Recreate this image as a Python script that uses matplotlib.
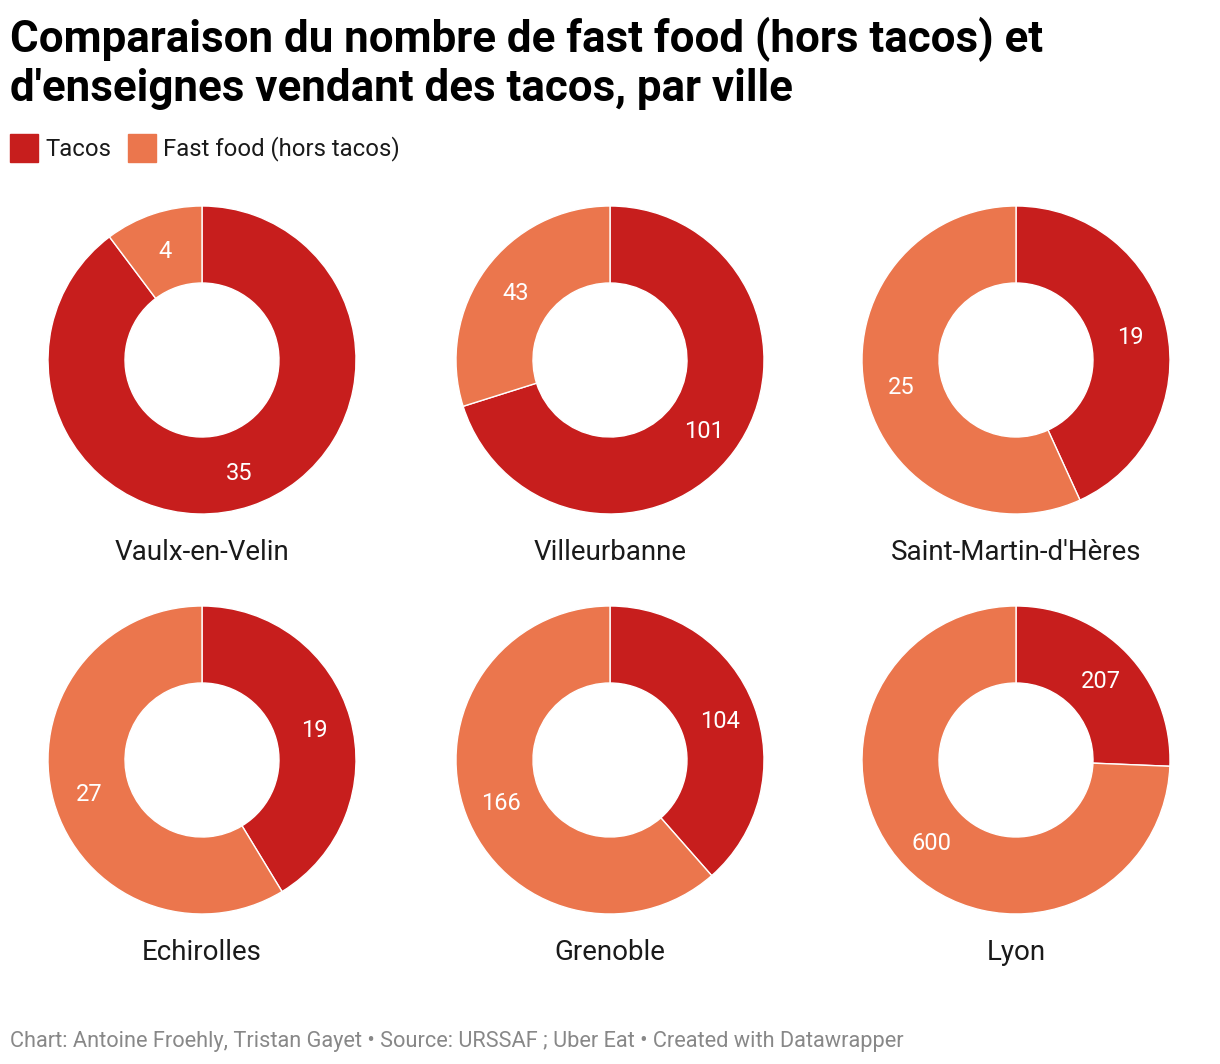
import matplotlib
matplotlib.use("Agg")
import matplotlib.pyplot as plt
from matplotlib.patches import Rectangle
import numpy as np

plt.rcParams['font.family'] = ['Roboto', 'DejaVu Sans']

cities = ["Vaulx-en-Velin", "Villeurbanne", "Saint-Martin-d'Hères",
          "Echirolles", "Grenoble", "Lyon"]
tacos = [35, 101, 19, 19, 104, 207]
fastfood = [4, 43, 25, 27, 166, 600]
series_names = ["Tacos", "Fast food (hors tacos)"]
colors = ["#c71e1d", "#eb764d"]

title_lines = ["Comparaison du nombre de fast food (hors tacos) et",
               "d'enseignes vendant des tacos, par ville"]
footer = "Chart: Antoine Froehly, Tristan Gayet • Source: URSSAF ; Uber Eat • Created with Datawrapper"

W, H = 1220, 1064
fig = plt.figure(figsize=(W / 100, H / 100), dpi=100)
fig.patch.set_facecolor("white")

def fx(x):
    return x / W

def fy(y):
    return 1 - y / H

for i, line in enumerate(title_lines):
    fig.text(fx(10), fy(52 + 49 * i), line, fontsize=31.6, fontweight="bold",
             color="#000000", va="baseline", ha="left")

# legend
leg_x = [10, 128]
for i, name in enumerate(series_names):
    fig.patches.append(Rectangle((fx(leg_x[i]), fy(162)), 28 / W, 28 / H,
                                 transform=fig.transFigure, color=colors[i]))
    fig.text(fx(leg_x[i] + 35), fy(149), name, fontsize=17.2, color="#1a1a1a",
             va="center", ha="left")

cxs = [202, 610, 1016]
cys = [360, 760]
R = 154
for idx, city in enumerate(cities):
    cx = cxs[idx % 3]
    cy = cys[idx // 3]
    ax = fig.add_axes([fx(cx - R), fy(cy + R), 2 * R / W, 2 * R / H])
    vals = [tacos[idx], fastfood[idx]]
    wedges, _ = ax.pie(vals, colors=colors, startangle=90, counterclock=False,
                       radius=1.0, wedgeprops=dict(width=0.5, edgecolor="white", linewidth=1))
    total = sum(vals)
    start = 90.0
    for v in vals:
        ang = start - 360.0 * v / total / 2
        start -= 360.0 * v / total
        r = 0.76
        ax.text(r * np.cos(np.radians(ang)), r * np.sin(np.radians(ang)) - 0.016, str(v),
                color="white", fontsize=17, ha="center", va="center")
    ax.set_xlim(-1, 1)
    ax.set_ylim(-1, 1)
    ax.set_aspect("equal")
    ax.axis("off")
    fig.text(fx(cx), fy(cy + 192), city, fontsize=20, color="#1a1a1a",
             ha="center", va="center")

fig.text(fx(10), fy(1041), footer, fontsize=15.7, color="#888888",
         ha="left", va="center")

fig.savefig("out.png", dpi=100, facecolor="white")
